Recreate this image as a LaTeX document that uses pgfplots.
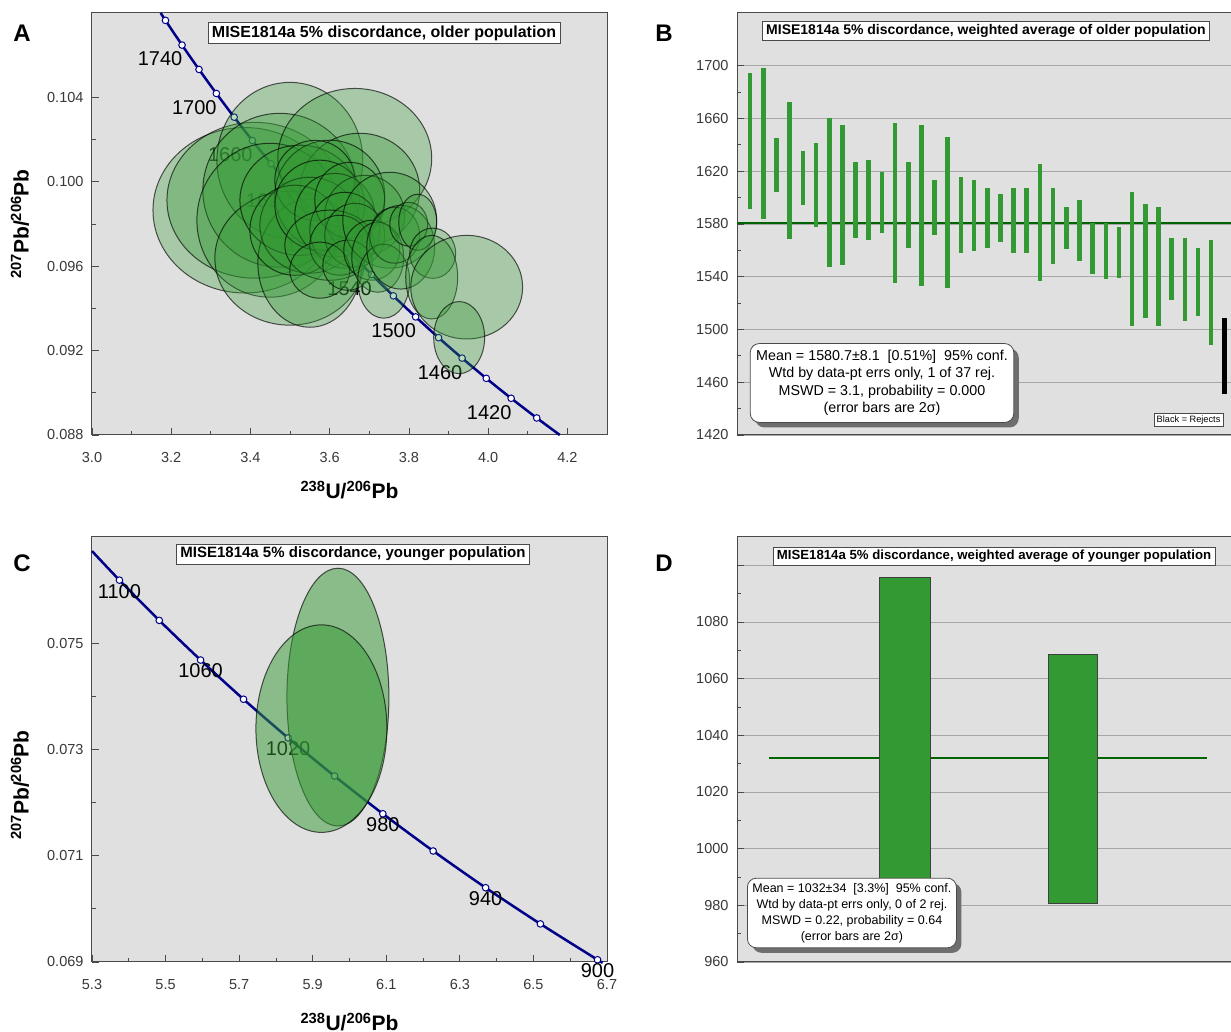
\documentclass[border=0pt]{standalone}
\usepackage{fontspec}
\setmainfont{Liberation Sans}
\usepackage{pgfplots}
\usepackage{pgfplotstable}
\pgfplotsset{compat=1.18}
\usetikzlibrary{shadows}

\definecolor{plotbg}{HTML}{E0E0E0}
\definecolor{framegray}{HTML}{4A4A4A}
\definecolor{barg}{HTML}{339933}
\definecolor{meang}{HTML}{006400}
\definecolor{concord}{HTML}{000088}
\definecolor{ticktext}{HTML}{383838}
\definecolor{gridgray}{HTML}{A6A6A6}
\definecolor{shadowgray}{HTML}{6E6E6E}

% error ellipse mark: semi-axes in data units, scaled by \ellsx and \ellsy
\newdimen\ellrxdim
\newdimen\ellrydim
\pgfdeclareplotmark{errell}{%
  \pgfmathsetlength{\ellrxdim}{\ellrx*\ellsx}%
  \pgfmathsetlength{\ellrydim}{(\ellry*1000)*\ellsy}%
  \pgfpathellipse{\pgfpointorigin}{\pgfqpoint{\ellrxdim}{0pt}}{\pgfqpoint{0pt}{\ellrydim}}%
  \pgfusepathqfillstroke}

\tikzset{
  titlebox/.style={draw=framegray, fill=white, line width=0.8pt, inner xsep=4pt, inner ysep=3pt},
  statbox/.style={draw=framegray, fill=white, line width=0.8pt, rounded corners=9pt, align=center,
    drop shadow={shadow xshift=5pt, shadow yshift=-5pt, fill=shadowgray, opacity=1}},
  axlabel/.style={font=\fontsize{21}{21}\selectfont\bfseries},
}

\pgfplotsset{
  panel/.style={
    scale only axis,
    axis background/.style={fill=plotbg},
    axis line style={framegray, line width=1pt},
    tick style={framegray, line width=0.8pt},
    tick align=inside,
    tick pos=left,
    major tick length=7pt, minor tick length=4pt,
    ticklabel style={font=\fontsize{14.5}{14.5}\selectfont, text=ticktext},
    xticklabel style={yshift=-14pt},
    yticklabel style={xshift=-5pt},
    scaled ticks=false,
    /pgf/number format/assume math mode=true,
    /pgf/number format/1000 sep={},
  },
  ellipses/.style={
    scatter, only marks, mark=errell,
    scatter/use mapped color={draw=black, fill=barg, fill opacity=#1, draw opacity=0.65, line width=1pt},
    visualization depends on={value \thisrow{rx}\as\ellrx},
    visualization depends on={value \thisrow{ry}\as\ellry},
  },
  agelabels/.style={
    only marks, mark=none, nodes near coords, point meta=explicit symbolic,
    every node near coord/.append style={font=\fontsize{20}{20}\selectfont, text=black, anchor=center, #1},
  },
  ebars/.style={
    draw=none, no markers,
    error bars/.cd, y dir=both, y explicit, error mark=none,
    error bar style={line width=4.6pt, draw=#1},
  },
}

\begin{document}
\begin{tikzpicture}
\path[use as bounding box] (0pt,0pt) rectangle (1231pt,1032pt);
\clip (0pt,0pt) rectangle (1231pt,1032pt);

\node[font=\fontsize{24}{24}\selectfont\bfseries] at (22pt,999pt) {A};
\node[font=\fontsize{24}{24}\selectfont\bfseries] at (664pt,999pt) {B};
\node[font=\fontsize{24}{24}\selectfont\bfseries] at (22pt,469pt) {C};
\node[font=\fontsize{24}{24}\selectfont\bfseries] at (664pt,469pt) {D};

% ---------------- A: concordia, older population
\def\ellsx{396.15pt}\def\ellsy{21.1pt}
\begin{axis}[panel, at={(92pt,597pt)}, anchor=south west, width=515pt, height=422pt,
  clip=false,
  xmin=3.0, xmax=4.3, ymin=0.088, ymax=0.108,
  xtick={3.0,3.2,3.4,3.6,3.8,4.0,4.2}, xticklabels={3.0,3.2,3.4,3.6,3.8,4.0,4.2},
  ytick={0.088,0.092,0.096,0.100,0.104}, yticklabels={0.088,0.092,0.096,0.100,0.104},
  minor x tick num=1, minor y tick num=1,
  xlabel={\textsuperscript{238}U/\textsuperscript{206}Pb},
  ylabel={\textsuperscript{207}Pb/\textsuperscript{206}Pb},
  xlabel style={axlabel, at={(rel axis cs:0.5,-0.13)}, anchor=center},
  ylabel style={axlabel, at={(rel axis cs:-0.14,0.5)}, anchor=center},
]
\addplot[concord, line width=2.5pt, smooth] table {
x y
3.1734 0.108000
3.18547 0.107649
3.22731 0.106479
3.27012 0.105325
3.31394 0.104186
3.35885 0.103063
3.40481 0.101954
3.45183 0.100859
3.50019 0.099780
3.54968 0.098716
3.60041 0.097664
3.65246 0.096627
3.70586 0.095604
3.76070 0.094594
3.81697 0.093597
3.87480 0.092613
3.93421 0.091643
3.99527 0.090685
4.05806 0.089740
4.12266 0.088807
4.1809 0.088000
};
\addplot[only marks, mark=*, mark size=3.3pt, mark options={fill=white, draw=concord, line width=1pt}] table {
x y
3.18547 0.107649
3.22731 0.106479
3.27012 0.105325
3.31394 0.104186
3.35885 0.103063
3.40481 0.101954
3.45183 0.100859
3.50019 0.099780
3.54968 0.098716
3.60041 0.097664
3.65246 0.096627
3.70586 0.095604
3.76070 0.094594
3.81697 0.093597
3.87480 0.092613
3.93421 0.091643
3.99527 0.090685
4.05806 0.089740
4.12266 0.088807
};
\addplot[agelabels={xshift=-22pt, yshift=-14pt}] table[meta=age] {
x y age
3.22731 0.106479 1740
3.31394 0.104186 1700
3.40481 0.101954 1660
3.50019 0.099780 1620
3.60041 0.097664 1580
3.70586 0.095604 1540
3.81697 0.093597 1500
3.93421 0.091643 1460
4.05806 0.089740 1420
};
\addplot[ellipses=0.32] table {
x y rx ry
3.3859 0.098650 0.2320 0.003929
3.4111 0.099124 0.2219 0.003692
3.4994 0.101018 0.1841 0.003692
3.4741 0.099598 0.1942 0.003645
3.4489 0.098177 0.1841 0.003645
3.4994 0.096379 0.1892 0.003172
3.5498 0.096142 0.1311 0.003030
3.6633 0.101112 0.1942 0.003314
3.6759 0.099598 0.1513 0.002698
3.5246 0.099124 0.1513 0.002604
3.6002 0.099361 0.1387 0.002604
3.5624 0.100071 0.1009 0.001893
3.5498 0.097941 0.1261 0.002272
3.5120 0.097704 0.1135 0.002130
3.5750 0.098888 0.1135 0.002130
3.6128 0.098414 0.1009 0.001988
3.6885 0.098414 0.1009 0.001893
3.6507 0.099124 0.0883 0.001799
3.6381 0.097704 0.0883 0.001799
3.6002 0.096994 0.1135 0.001657
3.6633 0.097467 0.0757 0.001515
3.6255 0.096994 0.0757 0.001420
3.5750 0.095811 0.0757 0.001325
3.6456 0.096047 0.0631 0.001183
3.7516 0.098177 0.1185 0.002272
3.7062 0.096757 0.0706 0.001420
3.7213 0.096426 0.0656 0.001657
3.7364 0.095290 0.0656 0.001751
3.7642 0.097467 0.0631 0.001325
3.7793 0.096899 0.0858 0.001988
3.7995 0.097988 0.0479 0.001041
3.8222 0.098083 0.0479 0.001325
3.8600 0.096615 0.0580 0.001183
3.8575 0.095479 0.0656 0.001988
3.9458 0.095006 0.1412 0.002462
3.9268 0.092615 0.0643 0.001704
};
\node[titlebox, font=\fontsize{16}{16}\selectfont\bfseries] at (rel axis cs:0.567,0.9526)
  {MISE1814a 5\% discordance, older population};
\end{axis}

% ---------------- B: weighted average, older population
\begin{axis}[panel, at={(737pt,597pt)}, anchor=south west, width=500.5pt, height=422pt,
  xmin=0, xmax=38, ymin=1420, ymax=1740,
  xtick=\empty,
  ytick={1420,1460,...,1700}, minor y tick num=1,
  ymajorgrids, major grid style={gridgray, line width=0.9pt},
]
\addplot[meang, line width=2.5pt] coordinates {(0,1580.7) (38,1580.7)};
\addplot[ebars=barg] table[x=n, y=mid, y error=half] {
n mid half
1 1642.75 51.45
2 1640.85 57.15
3 1624.45 20.45
4 1620.50 52.20
5 1615.10 20.50
6 1609.25 31.85
7 1603.70 56.60
8 1601.85 52.95
9 1598.00 28.70
10 1597.90 30.30
11 1596.25 22.85
12 1595.90 60.90
13 1594.25 32.45
14 1594.10 60.90
15 1592.35 20.95
16 1588.80 57.40
17 1586.50 28.80
18 1586.50 26.80
19 1584.65 22.85
20 1584.65 18.05
21 1582.60 24.90
22 1582.60 24.90
23 1580.95 44.25
24 1578.70 28.80
25 1576.70 15.90
26 1574.80 23.10
27 1561.65 19.35
28 1559.65 21.35
29 1558.35 19.05
30 1553.70 50.80
31 1551.65 43.25
32 1547.60 45.00
33 1545.70 23.60
34 1537.85 31.45
35 1536.15 25.65
36 1527.85 39.95
};
\addplot[ebars=black] table[x=n, y=mid, y error=half] {
n mid half
37 1479.60 28.80
};
\node[titlebox, font=\fontsize{14}{14}\selectfont\bfseries] at (rel axis cs:0.4975,0.957)
  {MISE1814a 5\% discordance, weighted average of older population};
\node[statbox, font=\fontsize{14.3}{17.5}\selectfont, inner xsep=6pt, inner ysep=6.5pt]
  at (rel axis cs:0.2897,0.1232)
  {Mean = 1580.7±8.1\ \ [0.51\%]\ \ 95\% conf.\\
   Wtd by data-pt errs only, 1 of 37 rej.\\
   MSWD = 3.1, probability = 0.000\\
   (error bars are 2σ)};
\node[draw=framegray, fill=white, line width=0.6pt, font=\fontsize{9.2}{9.2}\selectfont,
  inner sep=2.5pt, anchor=west] at (rel axis cs:0.833,0.0355) {Black = Rejects};
\end{axis}

% ---------------- C: concordia, younger population
\def\ellsx{367.86pt}\def\ellsy{53.125pt}
\begin{axis}[panel, at={(92pt,70pt)}, anchor=south west, width=515pt, height=425pt,
  clip=false,
  xmin=5.3, xmax=6.7, ymin=0.069, ymax=0.077,
  xtick={5.3,5.5,5.7,5.9,6.1,6.3,6.5,6.7}, xticklabels={5.3,5.5,5.7,5.9,6.1,6.3,6.5,6.7},
  ytick={0.069,0.071,0.073,0.075}, yticklabels={0.069,0.071,0.073,0.075},
  minor x tick num=1, minor y tick num=1,
  xlabel={\textsuperscript{238}U/\textsuperscript{206}Pb},
  ylabel={\textsuperscript{207}Pb/\textsuperscript{206}Pb},
  xlabel style={axlabel, at={(rel axis cs:0.5,-0.141)}, anchor=center},
  ylabel style={axlabel, at={(rel axis cs:-0.14,0.4165)}, anchor=center},
]
\addplot[concord, line width=2.5pt, smooth] table {
x y
5.3000 0.076735
5.37458 0.076188
5.48284 0.075430
5.59522 0.074684
5.71190 0.073946
5.83315 0.073218
5.95934 0.072500
6.09062 0.071790
6.22743 0.071090
6.37006 0.070398
6.51890 0.069717
6.67427 0.069042
6.6844 0.069000
};
\addplot[only marks, mark=*, mark size=3.3pt, mark options={fill=white, draw=concord, line width=1pt}] table {
x y
5.37458 0.076188
5.48284 0.075430
5.59522 0.074684
5.71190 0.073946
5.83315 0.073218
5.95934 0.072500
6.09062 0.071790
6.22743 0.071090
6.37006 0.070398
6.51890 0.069717
6.67427 0.069042
};
\addplot[agelabels={yshift=-11pt}] table[meta=age] {
x y age
5.37458 0.076188 1100
5.59522 0.074684 1060
5.83315 0.073218 1020
6.09062 0.071790 980
6.37006 0.070398 940
6.67427 0.069042 900
};
\addplot[ellipses=0.5] table {
x y rx ry
5.9685 0.073986 0.1386 0.002427
5.9236 0.073393 0.1780 0.001947
};
\node[titlebox, font=\fontsize{15}{15}\selectfont\bfseries] at (rel axis cs:0.5068,0.96)
  {MISE1814a 5\% discordance, younger population};
\end{axis}

% ---------------- D: weighted average, younger population
\begin{axis}[panel, at={(737pt,70pt)}, anchor=south west, width=504pt, height=425pt,
  xmin=0, xmax=3, ymin=960, ymax=1110,
  xtick=\empty,
  ytick={960,980,1000,1020,1040,1060,1080,1100},
  yticklabels={960,980,1000,1020,1040,1060,1080,{}},
  minor y tick num=1,
  ymajorgrids, major grid style={gridgray, line width=0.9pt},
]
\addplot[meang, line width=2.4pt] coordinates {(0.19,1032) (2.80,1032)};
\addplot[fill=barg, draw=black!75, line width=1pt] coordinates
  {(0.848,975) (1.152,975) (1.152,1095.6) (0.848,1095.6) (0.848,975)};
\addplot[fill=barg, draw=black!75, line width=1pt] coordinates
  {(1.853,980.6) (2.148,980.6) (2.148,1068.6) (1.853,1068.6) (1.853,980.6)};
\node[titlebox, font=\fontsize{13.2}{13.2}\selectfont\bfseries] at (rel axis cs:0.51,0.955)
  {MISE1814a 5\% discordance, weighted average of younger population};
\node[statbox, font=\fontsize{12.5}{16}\selectfont, inner xsep=5pt, inner ysep=5pt]
  at (rel axis cs:0.228,0.1153)
  {Mean = 1032±34\ \ [3.3\%]\ \ 95\% conf.\\
   Wtd by data-pt errs only, 0 of 2 rej.\\
   MSWD = 0.22, probability = 0.64\\
   (error bars are 2σ)};
\end{axis}
\end{tikzpicture}
\end{document}
